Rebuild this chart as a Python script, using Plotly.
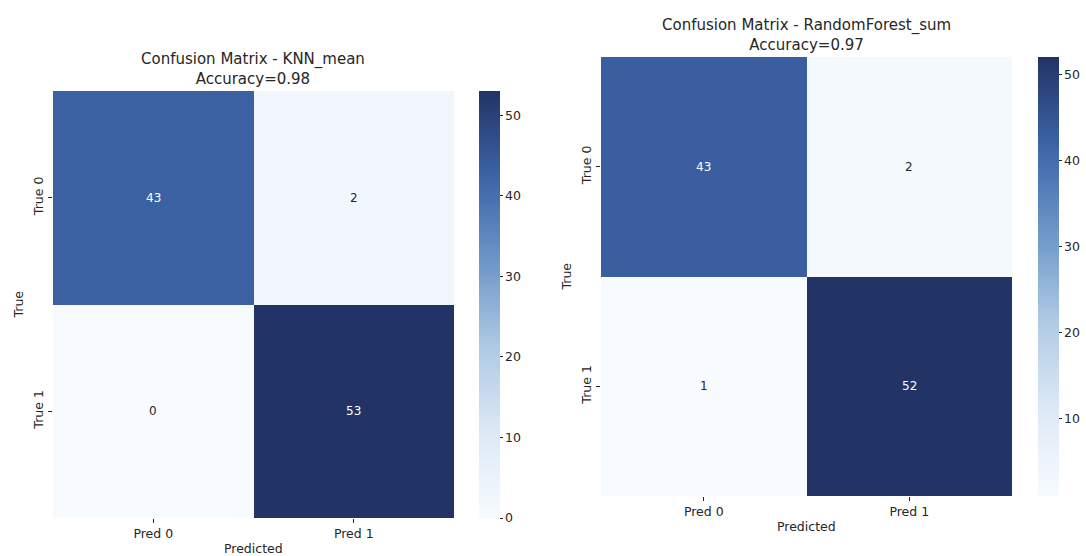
import plotly.graph_objects as go

# Confusion matrices for the two models
pred_labels = ["Pred 0", "Pred 1"]
true_labels = ["True 0", "True 1"]

knn_title = "Confusion Matrix - KNN_mean<br>Accuracy=0.98"
knn_matrix = [[43, 2],
              [0, 53]]

rf_title = "Confusion Matrix - RandomForest_sum<br>Accuracy=0.97"
rf_matrix = [[43, 2],
             [1, 52]]

W, H = 1086, 556
FONT = "DejaVu Sans"
TXT = "#262626"
LBL = 12.5

blues = [
    [0.00, "rgb(247,251,255)"],
    [0.20, "rgb(221,232,245)"],
    [0.40, "rgb(174,202,228)"],
    [0.57, "rgb(118,158,204)"],
    [0.75, "rgb(72,112,176)"],
    [0.82, "rgb(58,95,160)"],
    [1.00, "rgb(34,51,102)"],
]


def px_x(p):
    return p / W


def px_y(p):
    return 1 - p / H


panels = [
    dict(z=knn_matrix, title=knn_title, x0=53, x1=454, y0=91, y1=518,
         cb_x=479, xa="x", ya="y"),
    dict(z=rf_matrix, title=rf_title, x0=601, x1=1012, y0=57, y1=496,
         cb_x=1038, xa="x2", ya="y2"),
]

fig = go.Figure()
annotations = []

for i, p in enumerate(panels):
    z = p["z"]
    flat = [v for row in z for v in row]
    zmin, zmax = min(flat), max(flat)
    fig.add_trace(go.Heatmap(
        z=z, x=pred_labels, y=true_labels,
        colorscale=blues, zmin=zmin, zmax=zmax,
        xaxis=p["xa"], yaxis=p["ya"],
        hoverinfo="skip",
        colorbar=dict(
            x=px_x(p["cb_x"]), xanchor="left", xref="paper",
            y=px_y(p["y1"]), yanchor="bottom",
            len=(p["y1"] - p["y0"]) / H, lenmode="fraction",
            xpad=0, ypad=0,
            thickness=21, thicknessmode="pixels",
            outlinewidth=0,
            ticks="outside", ticklen=3, tickwidth=1, tickcolor=TXT,
            tickvals=[v for v in range(0, 60, 10) if zmin <= v <= zmax],
            tickfont=dict(family=FONT, size=LBL, color=TXT),
        ),
    ))
    # cell value labels
    for r, tl in enumerate(true_labels):
        for c, pl in enumerate(pred_labels):
            v = z[r][c]
            frac = (v - zmin) / (zmax - zmin)
            annotations.append(dict(
                x=pl, y=tl, xref=p["xa"], yref=p["ya"],
                text=str(v), showarrow=False,
                font=dict(family=FONT, size=12,
                          color="white" if frac > 0.5 else TXT),
            ))
    cx = (p["x0"] + p["x1"]) / 2
    cy = (p["y0"] + p["y1"]) / 2
    # panel title
    annotations.append(dict(
        x=px_x(cx), y=px_y(p["y0"] - 1), xref="paper", yref="paper",
        xanchor="center", yanchor="bottom", text=p["title"], showarrow=False,
        font=dict(family=FONT, size=15, color=TXT),
    ))
    # axis titles
    annotations.append(dict(
        x=px_x(cx), y=px_y(p["y1"] + 21), xref="paper", yref="paper",
        xanchor="center", yanchor="top", text="Predicted", showarrow=False,
        font=dict(family=FONT, size=LBL, color=TXT),
    ))
    annotations.append(dict(
        x=px_x(p["x0"] - 35), y=px_y(cy), xref="paper", yref="paper",
        xanchor="center", yanchor="middle", text="True", showarrow=False,
        textangle=-90, font=dict(family=FONT, size=LBL, color=TXT),
    ))

axis_common = dict(
    showgrid=False, zeroline=False, showline=False,
    ticks="outside", ticklen=4, tickwidth=1, tickcolor=TXT,
    tickfont=dict(family=FONT, size=LBL, color=TXT),
)

fig.update_layout(
    width=W, height=H,
    margin=dict(l=0, r=0, t=0, b=0),
    paper_bgcolor="white", plot_bgcolor="white",
    showlegend=False,
    annotations=annotations,
    xaxis=dict(domain=[px_x(53), px_x(454)], anchor="y", **axis_common),
    yaxis=dict(domain=[px_y(518), px_y(91)], anchor="x",
               autorange="reversed", tickangle=-90, **axis_common),
    xaxis2=dict(domain=[px_x(601), px_x(1012)], anchor="y2", **axis_common),
    yaxis2=dict(domain=[px_y(496), px_y(57)], anchor="x2",
                autorange="reversed", tickangle=-90, **axis_common),
)

fig.write_html("out.html")
